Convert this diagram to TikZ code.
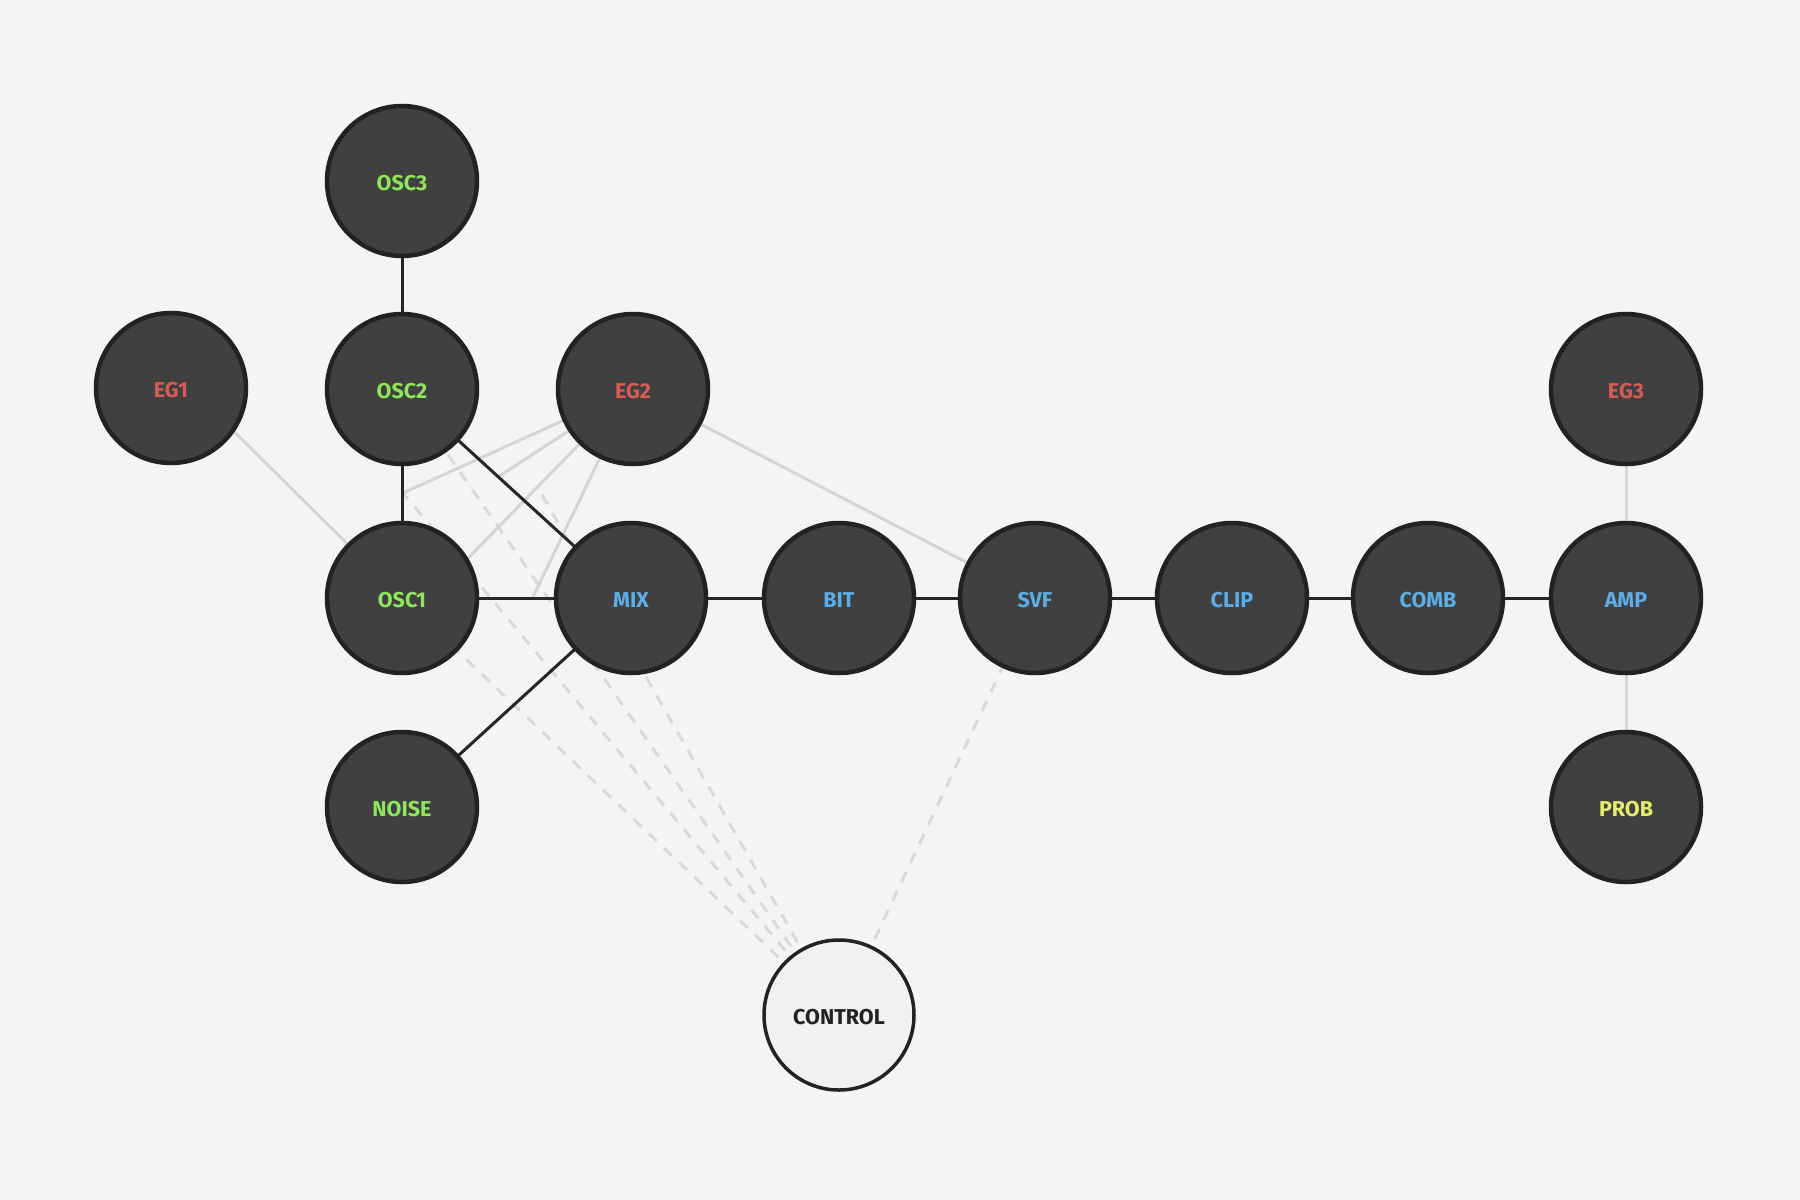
\documentclass[tikz,border=0pt]{standalone}
\usepackage{fontspec}
\setmainfont{Fira Sans}
\pgfdeclarelayer{background}
\pgfsetlayers{background,main}
\definecolor{bgcol}{HTML}{F4F4F4}
\definecolor{nodefill}{HTML}{404040}
\definecolor{nodeedge}{HTML}{222222}
\definecolor{ctrlfill}{HTML}{F1F1F1}
\definecolor{oscgreen}{HTML}{8DE65C}
\definecolor{egred}{HTML}{DA5A55}
\definecolor{fxblue}{HTML}{5BAEE8}
\definecolor{probyellow}{HTML}{E4EC70}
\definecolor{darkline}{HTML}{262626}
\definecolor{lightline}{HTML}{D5D5D5}
\definecolor{dashline}{HTML}{D9D9D9}
\begin{document}
\begin{tikzpicture}[x=1pt,y=-1pt,
  modnode/.style={circle, minimum size=150pt, inner sep=0pt, line width=4.5pt,
    draw=nodeedge, fill=nodefill, text height=19pt, text depth=0pt,
    font=\bfseries\fontsize{21.5}{21.5}\selectfont},
  osc/.style={modnode, text=oscgreen},
  eg/.style={modnode, text=egred},
  fx/.style={modnode, text=fxblue},
  prob/.style={modnode, text=probyellow},
  ctrlnode/.style={circle, minimum size=150pt, inner sep=0pt, line width=3.5pt,
    draw=nodeedge, fill=ctrlfill, text=nodeedge, text height=19pt, text depth=0pt,
    font=\bfseries\fontsize{21.5}{21.5}\selectfont},
  audio/.style={draw=darkline, line width=3pt},
  modline/.style={draw=lightline, line width=3pt},
  ctrlline/.style={draw=dashline, line width=3pt, dash pattern=on 11pt off 10pt}
]
\useasboundingbox (0,0) rectangle (1800,1200);

\node[osc] (OSC3) at (402,181) {OSC3};
\node[osc] (OSC2) at (402,389) {OSC2};
\node[osc] (OSC1) at (402,598) {OSC1};
\node[osc] (NOISE) at (402,807) {NOISE};
\node[eg] (EG1) at (171,388) {EG1};
\node[eg] (EG2) at (633,389) {EG2};
\node[eg] (EG3) at (1626,389) {EG3};
\node[fx] (MIX) at (631,598) {MIX};
\node[fx] (BIT) at (839,598) {BIT};
\node[fx] (SVF) at (1035,598) {SVF};
\node[fx] (CLIP) at (1232,598) {CLIP};
\node[fx] (COMB) at (1428,598) {COMB};
\node[fx] (AMP) at (1626,598) {AMP};
\node[prob] (PROB) at (1626,807) {PROB};
\node[ctrlnode] (CONTROL) at (839,1015) {CONTROL};

\coordinate (m1) at (403,493);
\coordinate (m2) at (498,477);
\coordinate (m3) at (441,586);
\coordinate (m4) at (537,486);
\coordinate (m5) at (533,597);
\coordinate (eg1src) at (171,369);

\begin{pgfonlayer}{background}
  \fill[bgcol] (0,0) rectangle (1800,1200);
  % control (dashed)
  \draw[ctrlline] (CONTROL.center) -- (OSC1.center);
  \draw[ctrlline] (CONTROL.center) -- (m1);
  \draw[ctrlline] (CONTROL.center) -- (OSC2.center);
  \draw[ctrlline] (CONTROL.center) -- (m4);
  \draw[ctrlline] (CONTROL.center) -- (SVF.center);
  % modulation (light)
  \draw[modline] (eg1src) -- (OSC1.center);
  \draw[modline] (EG2.center) -- (m1);
  \draw[modline] (EG2.center) -- (m2);
  \draw[modline] (EG2.center) -- (m3);
  \draw[modline] (EG2.center) -- (m5);
  \draw[modline] (EG2.center) -- (SVF.center);
  \draw[modline] (EG3.center) -- (AMP.center);
  \draw[modline] (PROB.center) -- (AMP.center);
  % audio (dark)
  \draw[audio] (OSC3.center) -- (OSC2.center);
  \draw[audio] (OSC2.center) -- (OSC1.center);
  \draw[audio] (OSC2.center) -- (MIX.center);
  \draw[audio] (OSC1.center) -- (MIX.center);
  \draw[audio] (NOISE.center) -- (MIX.center);
  \draw[audio] (MIX.center) -- (BIT.center);
  \draw[audio] (BIT.center) -- (SVF.center);
  \draw[audio] (SVF.center) -- (CLIP.center);
  \draw[audio] (CLIP.center) -- (COMB.center);
  \draw[audio] (COMB.center) -- (AMP.center);
\end{pgfonlayer}
\end{tikzpicture}
\end{document}
